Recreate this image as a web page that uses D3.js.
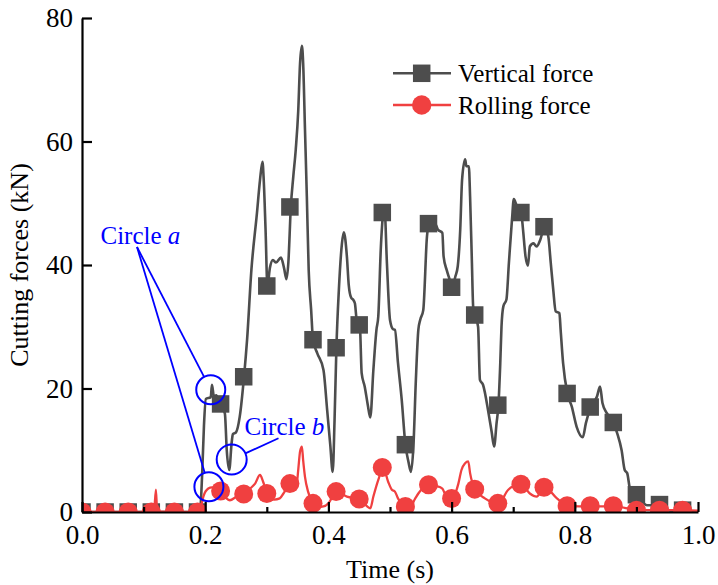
<!DOCTYPE html>
<html>
<head>
<meta charset="utf-8">
<script src="https://cdn.jsdelivr.net/npm/d3@7/dist/d3.min.js"></script>
<style>
  html, body { margin: 0; padding: 0; background: #fff; }
  svg { display: block; font-family: "Liberation Serif", "Times New Roman", serif; }
</style>
</head>
<body>
<svg id="chart" width="718" height="585"></svg>
<script>
// ---------- DATA ----------
const xTicks = [0.0, 0.2, 0.4, 0.6, 0.8, 1.0];
const xMinorTicks = [0.1, 0.3, 0.5, 0.7, 0.9];
const yTicks = [0, 20, 40, 60, 80];

// Vertical force trace (time s, force kN)
const verticalTime = [0, 0.190, 0.192, 0.195, 0.198, 0.201, 0.209, 0.211, 0.214, 0.218, 0.222, 0.226, 0.232, 0.235, 0.239, 0.243, 0.245, 0.250, 0.256, 0.263, 0.268, 0.275, 0.284, 0.289, 0.293, 0.295, 0.298, 0.301, 0.305, 0.310, 0.315, 0.323, 0.328, 0.332, 0.335, 0.339, 0.343, 0.347, 0.351, 0.354, 0.357, 0.359, 0.362, 0.365, 0.368, 0.372, 0.375, 0.382, 0.392, 0.398, 0.403, 0.407, 0.410, 0.413, 0.417, 0.422, 0.425, 0.430, 0.433, 0.437, 0.440, 0.443, 0.446, 0.451, 0.454, 0.459, 0.464, 0.468, 0.473, 0.478, 0.481, 0.485, 0.489, 0.491, 0.495, 0.500, 0.505, 0.508, 0.513, 0.519, 0.525, 0.530, 0.534, 0.538, 0.542, 0.546, 0.549, 0.554, 0.560, 0.563, 0.568, 0.575, 0.578, 0.585, 0.587, 0.592, 0.596, 0.601, 0.606, 0.610, 0.614, 0.617, 0.622, 0.624, 0.628, 0.630, 0.633, 0.635, 0.638, 0.643, 0.646, 0.651, 0.660, 0.665, 0.669, 0.673, 0.676, 0.679, 0.681, 0.684, 0.689, 0.693, 0.698, 0.701, 0.705, 0.713, 0.716, 0.720, 0.724, 0.727, 0.733, 0.738, 0.744, 0.751, 0.757, 0.761, 0.765, 0.769, 0.775, 0.777, 0.781, 0.788, 0.795, 0.803, 0.813, 0.818, 0.826, 0.836, 0.841, 0.845, 0.852, 0.8625, 0.869, 0.876, 0.881, 0.885, 0.890, 0.900, 0.917, 0.938, 0.955, 1.0];
const verticalForce = [0, 0, 0.5, 6, 14, 18.3, 18.6, 20.6, 18.8, 18.9, 18.0, 17.5, 15.9, 10.0, 6.8, 11.3, 12.6, 12.9, 15.4, 21.9, 27.9, 39.2, 48.4, 53.8, 56.7, 53.8, 45.7, 36.6, 39.5, 40.8, 40.4, 41.2, 39.5, 37.7, 40.4, 49.4, 54.3, 58.7, 64.9, 72.7, 75.5, 72.7, 61.9, 51.1, 39.2, 32.7, 27.9, 25.7, 23.0, 16.5, 10.9, 6.5, 14.9, 26.6, 36.0, 43.5, 45.3, 41.4, 36.8, 34.7, 34.4, 33.8, 31.1, 30.3, 22.5, 20.3, 17.3, 15.3, 23.0, 29.5, 31.7, 42.5, 48.5, 49.4, 40.3, 31.1, 29.6, 29.5, 24.1, 18.2, 10.9, 8.1, 6.5, 10.6, 21.4, 29.5, 31.1, 32.7, 44.6, 46.7, 47.3, 46.4, 45.7, 45.2, 41.4, 39.2, 37.9, 36.4, 38.1, 39.8, 45.7, 53.8, 57.1, 56.0, 56.0, 51.1, 40.3, 33.3, 31.9, 30.0, 21.4, 20.6, 16.0, 13.0, 10.6, 14.4, 17.3, 24.1, 30.0, 33.3, 34.4, 40.3, 47.3, 50.7, 49.8, 48.5, 45.7, 41.4, 39.9, 43.0, 43.5, 43.0, 44.1, 46.2, 44.6, 40.3, 36.0, 32.5, 32.2, 29.5, 24.1, 19.2, 17.1, 13.8, 12.1, 14.4, 17.0, 18.7, 20.3, 17.6, 16.0, 14.5, 12.7, 10.0, 6.8, 6.3, 3.6, 2.8, 1.1, 1.1, 0.2, 0];

// Rolling force trace (time s, force kN)
const rollingTime = [0, 0.114, 0.117, 0.120, 0.122, 0.190, 0.193, 0.197, 0.205, 0.211, 0.222, 0.231, 0.240, 0.251, 0.263, 0.273, 0.281, 0.289, 0.294, 0.301, 0.312, 0.321, 0.327, 0.339, 0.348, 0.351, 0.354, 0.357, 0.359, 0.362, 0.367, 0.375, 0.383, 0.392, 0.400, 0.413, 0.430, 0.451, 0.468, 0.473, 0.481, 0.489, 0.497, 0.503, 0.508, 0.513, 0.525, 0.532, 0.541, 0.546, 0.563, 0.575, 0.585, 0.589, 0.601, 0.611, 0.616, 0.622, 0.627, 0.630, 0.638, 0.654, 0.676, 0.692, 0.698, 0.713, 0.727, 0.738, 0.751, 0.771, 0.788, 0.826, 0.8625, 0.900, 0.938, 0.975, 1.0];
const rollingForce = [0, 0, 0.1, 3.6, 0.1, 0, 0.8, 2.5, 3.8, 4.0, 3.4, 2.5, 1.9, 2.5, 2.9, 3.8, 4.6, 6.0, 4.9, 3.0, 2.0, 2.2, 3.0, 4.6, 4.1, 6.8, 9.8, 10.6, 8.4, 5.7, 3.3, 1.4, 0.8, 0.9, 1.4, 3.3, 2.5, 2.1, 0.6, 2.5, 5.2, 7.2, 4.9, 3.6, 3.3, 2.2, 0.9, 0.8, 2.2, 3.0, 4.4, 4.2, 3.8, 3.0, 2.2, 4.6, 6.8, 7.9, 8.2, 6.3, 3.7, 2.2, 1.4, 3.6, 4.1, 4.5, 3.0, 2.5, 4.0, 2.2, 1.0, 0.9, 0.9, 0.4, 0.3, 0.3, 0.2];

// Marker positions
const markerTime = [0, 0.0375, 0.075, 0.1125, 0.15, 0.1875, 0.225, 0.2625, 0.3, 0.3375, 0.375, 0.4125, 0.45, 0.4875, 0.525, 0.5625, 0.6, 0.6375, 0.675, 0.7125, 0.75, 0.7875, 0.825, 0.8625, 0.9, 0.9375, 0.975];
const verticalMarkers = [0, 0, 0, 0, 0, 0, 17.5, 21.9, 36.6, 49.4, 27.9, 26.6, 30.3, 48.5, 10.9, 46.7, 36.4, 31.9, 17.3, 48.5, 46.2, 19.2, 17.0, 14.5, 2.8, 1.2, 0.3];
const rollingMarkers = [0, 0, 0, 0, 0, 0, 3.4, 2.9, 3.0, 4.6, 1.4, 3.3, 2.1, 7.2, 0.9, 4.4, 2.2, 3.7, 1.4, 4.5, 4.0, 1.0, 1.0, 1.0, 0.3, 0.3, 0.3];

// Annotation anchors (time, force)
const circleA = [[0.209, 19.8], [0.206, 4.1]];
const circleB = [0.243, 8.5];
const seriesNames = ["Vertical force", "Rolling force"];

// ---------- DRAW ----------
const grey = "#4d4d4d", red = "#f04040", blue = "#0000ff";
const svg = d3.select("#chart");
const x = d3.scaleLinear().domain([0, 1]).range([82, 698]);
const y = d3.scaleLinear().domain([0, 80]).range([512, 18]);

svg.append("defs").append("clipPath").attr("id", "plot")
  .append("rect").attr("x", 82).attr("y", 18).attr("width", 616).attr("height", 494);

const plot = svg.append("g").attr("clip-path", "url(#plot)");

const vData = verticalTime.map((t, i) => [t, verticalForce[i]]);
const rData = rollingTime.map((t, i) => [t, rollingForce[i]]);
const line = d3.line().x(d => x(d[0])).y(d => y(d[1])).curve(d3.curveMonotoneX);

plot.append("path").datum(vData).attr("d", line)
  .attr("fill", "none").attr("stroke", grey).attr("stroke-width", 2.6).attr("stroke-linejoin", "round");
const sq = 17.5;
plot.selectAll("rect.vm").data(markerTime.map((t, i) => [t, verticalMarkers[i]])).enter()
  .append("rect").attr("class", "vm")
  .attr("x", d => x(d[0]) - sq / 2).attr("y", d => y(d[1]) - sq / 2)
  .attr("width", sq).attr("height", sq).attr("fill", grey);

plot.append("path").datum(rData).attr("d", line)
  .attr("fill", "none").attr("stroke", red).attr("stroke-width", 2.3).attr("stroke-linejoin", "round");
plot.selectAll("circle.rm").data(markerTime.map((t, i) => [t, rollingMarkers[i]])).enter()
  .append("circle").attr("class", "rm")
  .attr("cx", d => x(d[0])).attr("cy", d => y(d[1])).attr("r", 9.5).attr("fill", red);

// Axes
const fontTick = 27;
const xAxis = svg.append("g").attr("transform", "translate(0,512)")
  .call(d3.axisBottom(x).tickValues(xTicks).tickFormat(d3.format(".1f")).tickSizeInner(-10).tickSizeOuter(0).tickPadding(13));
const xMinor = svg.append("g").attr("transform", "translate(0,512)")
  .call(d3.axisBottom(x).tickValues(xMinorTicks).tickFormat("").tickSizeInner(-5).tickSizeOuter(0));
const yAxis = svg.append("g").attr("transform", "translate(82,0)")
  .call(d3.axisLeft(y).tickValues(yTicks).tickSizeInner(-10).tickSizeOuter(0).tickPadding(9));

[xAxis, xMinor, yAxis].forEach(g => {
  g.select(".domain").attr("stroke", "#000").attr("stroke-width", 2.2);
  g.selectAll(".tick line").attr("stroke", "#000").attr("stroke-width", 2.2);
  g.selectAll("text").attr("font-family", "Liberation Serif, Times New Roman, serif")
    .attr("font-size", fontTick).attr("fill", "#000");
});
xMinor.select(".domain").remove();

svg.append("text").attr("x", x(0.5)).attr("y", 578).attr("text-anchor", "middle")
  .attr("font-size", 26).text("Time (s)");
svg.append("text").attr("transform", "translate(28,265) rotate(-90)").attr("text-anchor", "middle")
  .attr("font-size", 26).text("Cutting forces (kN)");

// Legend
const leg = svg.append("g");
const legY = [73.3, 105];
leg.append("line").attr("x1", 393).attr("x2", 451).attr("y1", legY[0]).attr("y2", legY[0])
  .attr("stroke", grey).attr("stroke-width", 2.6);
leg.append("rect").attr("x", 421.7 - sq / 2).attr("y", legY[0] - sq / 2).attr("width", sq).attr("height", sq).attr("fill", grey);
leg.append("line").attr("x1", 393).attr("x2", 451).attr("y1", legY[1]).attr("y2", legY[1])
  .attr("stroke", red).attr("stroke-width", 2.3);
leg.append("circle").attr("cx", 421.7).attr("cy", legY[1]).attr("r", 9.7).attr("fill", red);
seriesNames.forEach((n, i) => {
  leg.append("text").attr("x", 458).attr("y", legY[i] + 8.5).attr("font-size", 25).attr("fill", "#000").text(n);
});

// Annotations
const ann = svg.append("g");
const rA = 14.5;
circleA.forEach(c => {
  ann.append("circle").attr("cx", x(c[0])).attr("cy", y(c[1])).attr("r", rA)
    .attr("fill", "none").attr("stroke", blue).attr("stroke-width", 2);
});
ann.append("circle").attr("cx", x(circleB[0])).attr("cy", y(circleB[1])).attr("r", 15)
  .attr("fill", "none").attr("stroke", blue).attr("stroke-width", 2);
// leader lines
const apex = [137, 247];
circleA.forEach((c, i) => {
  const cx = x(c[0]), cy = y(c[1]);
  const dx = apex[0] - cx, dy = apex[1] - cy, L = Math.hypot(dx, dy);
  ann.append("line").attr("x1", apex[0]).attr("y1", apex[1])
    .attr("x2", cx + dx / L * rA).attr("y2", cy + dy / L * rA)
    .attr("stroke", blue).attr("stroke-width", 1.8);
});
{
  const cx = x(circleB[0]), cy = y(circleB[1]);
  const end = [278.5, 438.3];
  const dx = end[0] - cx, dy = end[1] - cy, L = Math.hypot(dx, dy);
  ann.append("line").attr("x1", cx + dx / L * 15).attr("y1", cy + dy / L * 15)
    .attr("x2", end[0]).attr("y2", end[1]).attr("stroke", blue).attr("stroke-width", 1.8);
}
const ta = ann.append("text").attr("x", 100.5).attr("y", 243.5).attr("font-size", 25).attr("fill", blue);
ta.append("tspan").text("Circle ");
ta.append("tspan").attr("font-style", "italic").text("a");
const tb = ann.append("text").attr("x", 244.5).attr("y", 435).attr("font-size", 25).attr("fill", blue);
tb.append("tspan").text("Circle ");
tb.append("tspan").attr("font-style", "italic").text("b");
</script>
</body>
</html>
